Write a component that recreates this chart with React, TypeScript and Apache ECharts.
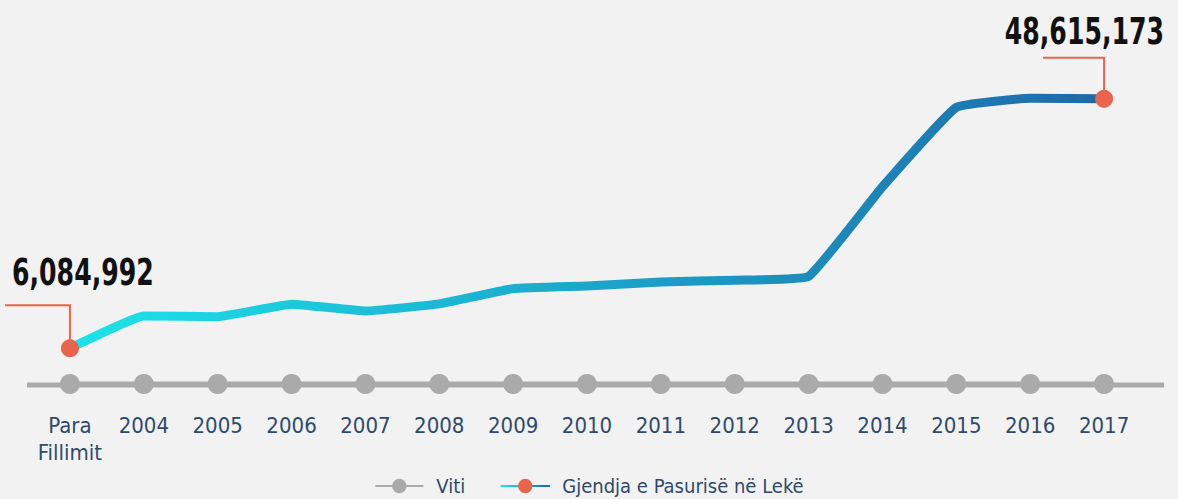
import React, { useEffect, useRef } from "react";
import * as echarts from "echarts";

const categories = ["Para\nFillimit", "2004", "2005", "2006", "2007", "2008", "2009", "2010", "2011", "2012", "2013", "2014", "2015", "2016", "2017"];
const wealthValues = [6084992, 11600000, 11480000, 13600000, 12450000, 13650000, 16260000, 16720000, 17400000, 17690000, 18340000, 33630000, 47170000, 48700000, 48615173];
const yearBaseline = [0, 0, 0, 0, 0, 0, 0, 0, 0, 0, 0, 0, 0, 0, 0];
const firstLabel = "6,084,992";
const lastLabel = "48,615,173";

const FONT = "'Liberation Sans Narrow', 'DejaVu Sans Condensed', 'Roboto', sans-serif";
const RED = "#e8644c";
const TEXT_BLUE = "#2e4a6d";
const GRAY = "#aaaaaa";
const LEGEND_ICON_W = 48;

export default function App() {
  const ref = useRef<HTMLDivElement>(null);
  useEffect(() => {
    document.body.style.margin = "0";
    if (!ref.current) return;
    const chart = echarts.init(ref.current, null, { renderer: "svg" });
    const last = wealthValues.length - 1;
    const stops = [
      { offset: 0, color: "#1ce4e8" },
      { offset: 0.5, color: "#1ba6cc" },
      { offset: 1, color: "#1e69a8" },
    ];
    const option: any = {
      animation: false,
      backgroundColor: "#f2f2f2",
      grid: { left: 33, right: 37, top: 32, bottom: 115 },
      legend: {
        top: 471,
        left: "center",
        itemWidth: LEGEND_ICON_W,
        itemHeight: 18,
        itemGap: 35,
        textStyle: { fontFamily: FONT, fontSize: 20, color: TEXT_BLUE, padding: [0, 0, 0, 8] },
        data: [
          { name: "Viti" },
          {
            name: "Gjendja e Pasurisë në Lekë",
            lineStyle: {
              color: new echarts.graphic.LinearGradient(0, 0, LEGEND_ICON_W, 0, stops, true),
            },
          },
        ],
      },
      xAxis: {
        type: "category",
        data: categories,
        boundaryGap: true,
        axisLine: { show: false },
        axisTick: { show: false },
        axisLabel: { fontFamily: FONT, fontSize: 22, lineHeight: 27, color: TEXT_BLUE, margin: 28, interval: 0 },
      },
      yAxis: { type: "value", min: 0, max: 60000000, show: false, splitLine: { show: false } },
      series: [
        {
          name: "Viti",
          type: "line",
          data: yearBaseline,
          symbol: "circle",
          symbolSize: 20,
          itemStyle: { color: GRAY },
          lineStyle: { color: GRAY, width: 5 },
          z: 2,
        },
        {
          name: "Gjendja e Pasurisë në Lekë",
          type: "line",
          smooth: 0.1,
          data: wealthValues.map((v, i) =>
            i === 0 || i === last ? { value: v } : { value: v, symbol: "none" }
          ),
          symbol: "circle",
          symbolSize: 18,
          itemStyle: { color: RED },
          lineStyle: {
            width: 9,
            cap: "round",
            join: "round",
            color: new echarts.graphic.LinearGradient(0, 0, 1, 0, stops),
          },
          z: 3,
        },
      ],
    };
    chart.setOption(option);

    const p0 = chart.convertToPixel({ xAxisIndex: 0, yAxisIndex: 0 }, [0, wealthValues[0]]) as number[];
    const pN = chart.convertToPixel({ xAxisIndex: 0, yAxisIndex: 0 }, [last, wealthValues[last]]) as number[];
    const z0 = chart.convertToPixel({ xAxisIndex: 0, yAxisIndex: 0 }, [0, 0]) as number[];
    const zN = chart.convertToPixel({ xAxisIndex: 0, yAxisIndex: 0 }, [last, 0]) as number[];

    const bigText = {
      fontFamily: FONT,
      fontWeight: "bold",
      fontSize: 28,
      fill: "#111111",
      textVerticalAlign: "middle",
    };

    chart.setOption({
      graphic: [
        {
          type: "line",
          z: 1,
          shape: { x1: z0[0] - 43, y1: z0[1] + 1, x2: zN[0] + 60, y2: zN[1] + 1 },
          style: { stroke: GRAY, lineWidth: 5 },
        },
        {
          type: "polyline",
          z: 1,
          shape: { points: [[5, p0[1] - 43], [p0[0], p0[1] - 43], [p0[0], p0[1]]] },
          style: { stroke: RED, lineWidth: 2, fill: null },
        },
        {
          type: "polyline",
          z: 1,
          shape: { points: [[pN[0] - 61, pN[1] - 41], [pN[0], pN[1] - 41], [pN[0], pN[1]]] },
          style: { stroke: RED, lineWidth: 2, fill: null },
        },
        {
          type: "text",
          x: 12,
          y: p0[1] - 76,
          scaleY: 1.35,
          style: { ...bigText, text: firstLabel, textAlign: "left" },
        },
        {
          type: "text",
          x: pN[0] + 60,
          y: pN[1] - 68,
          scaleY: 1.35,
          style: { ...bigText, text: lastLabel, textAlign: "right" },
        },
      ],
    });

    return () => chart.dispose();
  }, []);
  return <div ref={ref} style={{ position: "absolute", left: 0, top: 0, width: 1178, height: 499 }} />;
}
